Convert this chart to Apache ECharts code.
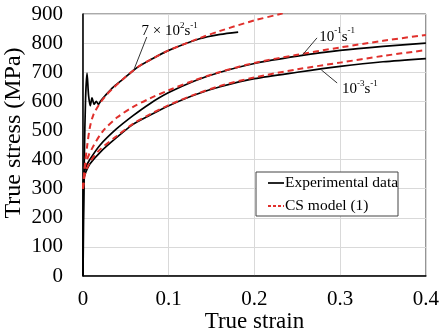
<!DOCTYPE html>
<html>
<head>
<meta charset="utf-8">
<script src="https://cdn.jsdelivr.net/npm/echarts@6/dist/echarts.min.js"></script>
<style>html,body{margin:0;padding:0;background:#fff;}#c{width:442px;height:334px;}</style>
</head>
<body>
<div id="c"></div>
<script>
// ---- data (strain, stress MPa) ----
const expHigh = [[0,0],[0.0015,400],[0.003,610],[0.0047,697],[0.0065,620],[0.0085,585],[0.0105,612],[0.013,590],[0.0155,600],[0.018,590],[0.021,603],[0.026,620],[0.035,648],[0.045,672],[0.064,718],[0.08,745],[0.1,775],[0.136,815],[0.16,830],[0.181,838]];
const expMid = [[0,0],[0.0008,340],[0.003,372],[0.008,400],[0.02,450],[0.039,505],[0.058,550],[0.078,592],[0.1,630],[0.13,670],[0.16,700],[0.2,730],[0.25,755],[0.3,775],[0.35,789],[0.4,800]];
const expLow = [[0,0],[0.0008,330],[0.003,355],[0.008,385],[0.02,425],[0.039,475],[0.058,520],[0.078,552],[0.1,585],[0.13,622],[0.16,650],[0.2,678],[0.25,700],[0.3,720],[0.35,736],[0.4,747]];
const csHigh = [[0,300],[0.002,375],[0.005,450],[0.008,510],[0.012,553],[0.019,590],[0.027,621],[0.035,645],[0.045,672],[0.064,718],[0.08,745],[0.1,775],[0.136,817],[0.16,842],[0.2,878],[0.23,900],[0.24,908]];
const csMid = [[0,300],[0.002,370],[0.005,402],[0.01,435],[0.023,497],[0.04,545],[0.058,580],[0.078,610],[0.1,638],[0.13,672],[0.16,701],[0.2,732],[0.25,760],[0.3,785],[0.35,808],[0.4,828]];
const csLow = [[0,300],[0.002,345],[0.005,372],[0.01,400],[0.02,435],[0.039,480],[0.058,522],[0.078,555],[0.1,587],[0.13,623],[0.16,653],[0.2,682],[0.25,710],[0.3,733],[0.35,756],[0.4,776]];
const legendNames = ['Experimental data', 'CS model (1)'];
const xTitle = 'True strain';
const yTitle = 'True stress (MPa)';
// annotations: label rich text, label center (data), pointer start (data), pointer end (data)
const annHigh = {text: '{a|7 × 10}{b|2}{a|s}{b|-1}', at: [0.101, 845], from: [0.0744, 821], to: [0.0593, 708]};
const annMid  = {text: '{a|10}{b|-1}{a|s}{b|-1}', at: [0.2965, 826], from: [0.273, 818], to: [0.256, 759]};
const annLow  = {text: '{a|10}{b|-3}{a|s}{b|-1}', at: [0.323, 646], from: [0.278, 708], to: [0.2965, 663]};

const FONT = '"Liberation Serif", "Times New Roman", serif';
const RED = '#e0302c';
const DASH = [6, 4];
const chart = echarts.init(document.getElementById('c'), null, {renderer: 'canvas'});

function expSeries(d, name) {
  return {type: 'line', name: name, data: d, showSymbol: false, symbol: 'none', smooth: 0.25,
    lineStyle: {color: '#000', width: 1.7}, itemStyle: {color: '#000'}, z: 3};
}
function csSeries(d, name) {
  return {type: 'line', name: name, data: d, showSymbol: false, symbol: 'none', smooth: 0.3,
    lineStyle: {color: RED, width: 2, type: DASH}, itemStyle: {color: RED}, z: 4};
}

chart.setOption({
  animation: false,
  backgroundColor: '#fff',
  grid: {left: 83, right: 15, top: 14, bottom: 58, show: true, borderColor: '#555', borderWidth: 1},
  xAxis: {type: 'value', min: 0, max: 0.4, interval: 0.1,
    axisLine: {show: true, onZero: false, lineStyle: {color: '#000', width: 1.5}},
    axisTick: {show: false},
    splitLine: {show: true, lineStyle: {color: '#d9d9d9', width: 1}},
    axisLabel: {color: '#000', fontFamily: FONT, fontSize: 21, margin: 13}},
  yAxis: {type: 'value', min: 0, max: 900, interval: 100,
    axisLine: {show: true, lineStyle: {color: '#000', width: 1.5}},
    axisTick: {show: false},
    splitLine: {show: true, lineStyle: {color: '#d9d9d9', width: 1}},
    axisLabel: {color: '#000', fontFamily: FONT, fontSize: 21, margin: 20}},
  series: [
    expSeries(expHigh, legendNames[0]), expSeries(expMid, legendNames[0]), expSeries(expLow, legendNames[0]),
    csSeries(csHigh, legendNames[1]), csSeries(csMid, legendNames[1]), csSeries(csLow, legendNames[1])
  ]
});

function px(p) { return chart.convertToPixel({gridIndex: 0}, p); }
const rich = {a: {fontFamily: FONT, fontSize: 15, color: '#000', lineHeight: 18, verticalAlign: 'bottom'},
              b: {fontFamily: FONT, fontSize: 9, color: '#000', lineHeight: 18, verticalAlign: 'top', padding: [0, 0, 6, 0]}};
const g = [];
[annHigh, annMid, annLow].forEach(function (a) {
  const c = px(a.at), f = px(a.from), t = px(a.to);
  g.push({type: 'text', x: c[0], y: c[1], style: {text: a.text, rich: rich, align: 'center', verticalAlign: 'middle'}, z: 10});
  g.push({type: 'line', shape: {x1: f[0], y1: f[1], x2: t[0], y2: t[1]}, style: {stroke: '#333', lineWidth: 1}, z: 10});
});
// legend box (drawn so the red key keeps its dashes)
const LX = 256, LY = 172, LW = 142, LH = 44;
g.push({type: 'rect', shape: {x: LX, y: LY, width: LW, height: LH}, style: {fill: '#fff', stroke: '#444', lineWidth: 1}, z: 20});
g.push({type: 'line', shape: {x1: LX + 12, y1: LY + 11, x2: LX + 28, y2: LY + 11}, style: {stroke: '#000', lineWidth: 1.7}, z: 21});
g.push({type: 'text', x: LX + 29, y: LY + 11, style: {text: legendNames[0], fontFamily: FONT, fontSize: 15.5, fill: '#000', verticalAlign: 'middle'}, z: 21});
g.push({type: 'line', shape: {x1: LX + 12, y1: LY + 34, x2: LX + 28, y2: LY + 34}, style: {stroke: RED, lineWidth: 2, lineDash: [3, 2]}, z: 21});
g.push({type: 'text', x: LX + 29, y: LY + 34, style: {text: legendNames[1], fontFamily: FONT, fontSize: 15.5, fill: '#000', verticalAlign: 'middle'}, z: 21});
const gx = px([0.2, 0]);
g.push({type: 'text', x: gx[0], y: 322, style: {text: xTitle, fontFamily: FONT, fontSize: 23, fill: '#000', align: 'center', verticalAlign: 'middle'}});
g.push({type: 'text', x: 14, y: 133, rotation: Math.PI / 2, style: {text: yTitle, fontFamily: FONT, fontSize: 24, fill: '#000', align: 'center', verticalAlign: 'middle'}});
chart.setOption({graphic: g});
</script>
</body>
</html>
